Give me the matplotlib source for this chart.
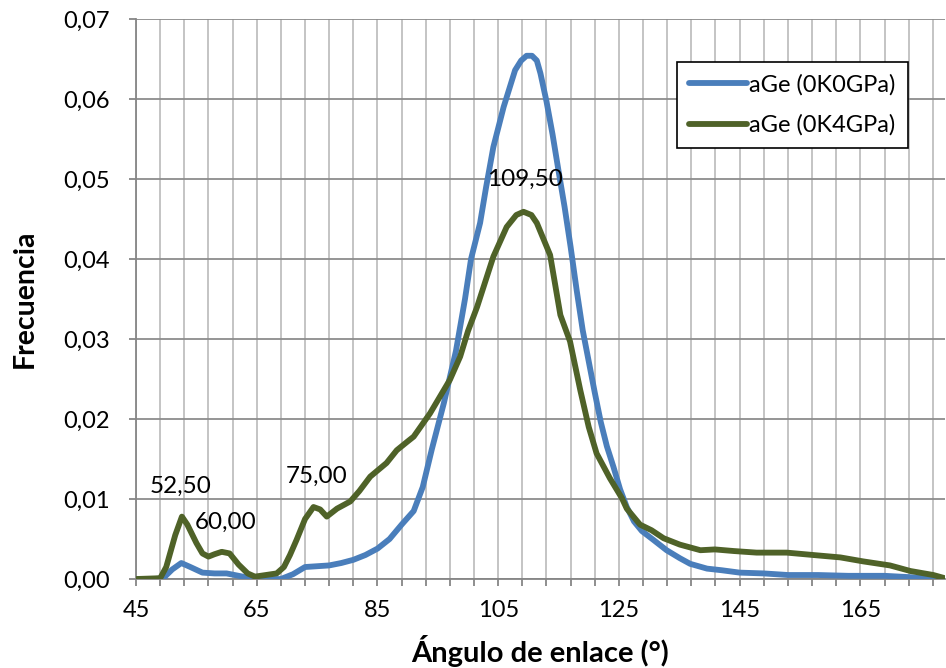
import numpy as np
import matplotlib.pyplot as plt

plt.rcParams['font.family'] = ['Lato', 'DejaVu Sans']

# Datos
x_0gpa = [45, 48, 49.5, 51, 52.5, 54, 56, 58, 60, 62, 64, 66, 69, 71, 73, 75, 77, 79,
          81, 83, 85, 87, 89, 91, 92.5, 94, 96, 98, 99.5, 100.5, 102, 103, 104.2,
          105.9, 107.8, 108.8, 109.7, 110.6, 111.4, 112, 113, 114, 115, 116, 117,
          118, 119, 120, 121, 122, 123, 124.1, 125.2, 126.3, 127.5, 128.8, 130.7,
          132.9, 135.1, 136.8, 139.6, 142, 145, 149, 153, 158, 163, 169, 174, 179]
y_0gpa = [0, 0, 0.0001, 0.0012, 0.002, 0.0015, 0.0008, 0.0007, 0.0007, 0.0004,
          0.0001, 0, 0, 0.0006, 0.0015, 0.0016, 0.0017, 0.002, 0.0024, 0.003,
          0.0038, 0.005, 0.0068, 0.0085, 0.0115, 0.0162, 0.022, 0.0285, 0.035,
          0.04, 0.0445, 0.049, 0.054, 0.059, 0.0636, 0.0648, 0.0654, 0.0654,
          0.0648, 0.0632, 0.0597, 0.0556, 0.051, 0.0465, 0.0415, 0.0361, 0.0311,
          0.0272, 0.0233, 0.0196, 0.0166, 0.014, 0.0112, 0.009, 0.0072, 0.006,
          0.0049, 0.0036, 0.0026, 0.0019, 0.0013, 0.0011, 0.0008, 0.0007, 0.0005,
          0.0005, 0.0004, 0.0004, 0.0002, 0]

x_4gpa = [45, 49, 50, 51.5, 52.6, 53.5, 55, 56, 57, 58, 59.2, 60.5, 62, 63.5,
          64.7, 66.5, 68.3, 69.5, 70.5, 71.6, 73, 74.4, 75.5, 76.6, 78.3, 80.5,
          82, 83.8, 86.5, 88.2, 90, 91, 93.7, 97, 98.7, 100, 101.5, 103, 104.2,
          106.4, 108, 109.2, 110.5, 111.4, 112.5, 113.6, 115.3, 116.9, 118.6,
          120, 121.3, 123.5, 125.5, 126.3, 128.5, 130.4, 132.4, 135.1, 138.5,
          140.9, 144, 147.8, 152.8, 157.2, 161.7, 165.5, 169.9, 173.3, 177.1, 179]
y_4gpa = [0, 0.0001, 0.0015, 0.0055, 0.0078, 0.0068, 0.0045, 0.0032, 0.0028,
          0.0031, 0.0034, 0.0032, 0.0018, 0.0007, 0.0003, 0.0005, 0.0007, 0.0015,
          0.003, 0.0049, 0.0075, 0.009, 0.0087, 0.0078, 0.0088, 0.0097, 0.011,
          0.0128, 0.0145, 0.0161, 0.0172, 0.0178, 0.0207, 0.0249, 0.0278, 0.031,
          0.034, 0.0375, 0.0403, 0.044, 0.0455, 0.0459, 0.0455, 0.0445, 0.0425,
          0.0405, 0.033, 0.0297, 0.0236, 0.019, 0.0157, 0.0126, 0.0101, 0.0088,
          0.0068, 0.0061, 0.0051, 0.0043, 0.0036, 0.0037, 0.0035, 0.0033,
          0.0033, 0.003, 0.0027, 0.0022, 0.0017, 0.001, 0.0005, 0.0001]

# etiquetas de los picos
pk_text = ['52,50', '60,00', '75,00', '109,50']
pk_x = [52.3, 59.9, 75.0, 109.5]
pk_y = [0.0116, 0.0071, 0.0128, 0.0499]

fig = plt.figure(figsize=(9.46, 6.68), dpi=100)
ax = fig.add_axes([0.1438, 0.1332, 0.855, 0.8384])

ax.plot(x_0gpa, y_0gpa, color='#4A7EBB', lw=4.2, solid_capstyle='round',
        solid_joinstyle='round', label='aGe (0K0GPa)', zorder=3)
ax.plot(x_4gpa, y_4gpa, color='#4F6228', lw=4.2, solid_capstyle='round',
        solid_joinstyle='round', label='aGe (0K4GPa)', zorder=4)

for t, px, py in zip(pk_text, pk_x, pk_y):
    ax.text(px, py, t, ha='center', va='center', fontsize=17.5, zorder=5)

ax.set_xlim(45, 179)
ax.set_ylim(0, 0.07)

xt = np.arange(45, 179, 4)
ax.set_xticks(xt)
ax.set_xticklabels([str(v) if (v - 45) % 20 == 0 else '' for v in xt])
yt = np.arange(0, 0.0701, 0.01)
ax.set_yticks(yt)
ax.set_yticklabels([f'{v:.2f}'.replace('.', ',') for v in yt])

ax.grid(axis='x', color='#BFBFBF', lw=1.3)
ax.grid(axis='y', color='#8C8C8C', lw=1.3)
ax.set_axisbelow(True)

for s in ['top', 'right']:
    ax.spines[s].set_visible(False)
for s in ['left', 'bottom']:
    ax.spines[s].set_color('#868686')
    ax.spines[s].set_linewidth(1.3)

ax.tick_params(axis='both', direction='out', length=5, width=1.3,
               color='#868686', labelsize=17)
ax.tick_params(axis='x', pad=10)
ax.tick_params(axis='y', pad=14)

ax.set_xlabel('Ángulo de enlace (°)', fontsize=21, fontweight='bold', labelpad=10)
ax.set_ylabel('Frecuencia', fontsize=20.5, fontweight='bold', labelpad=18)

leg = ax.legend(loc='upper right', bbox_to_anchor=(0.954, 0.923), fontsize=17,
                frameon=True, fancybox=False, edgecolor='black', framealpha=1,
                handlelength=2.45, handletextpad=0.1, borderpad=0.5, labelspacing=0.8,
                borderaxespad=0)
leg.get_frame().set_linewidth(1.2)

fig.savefig('out.png', dpi=100)
